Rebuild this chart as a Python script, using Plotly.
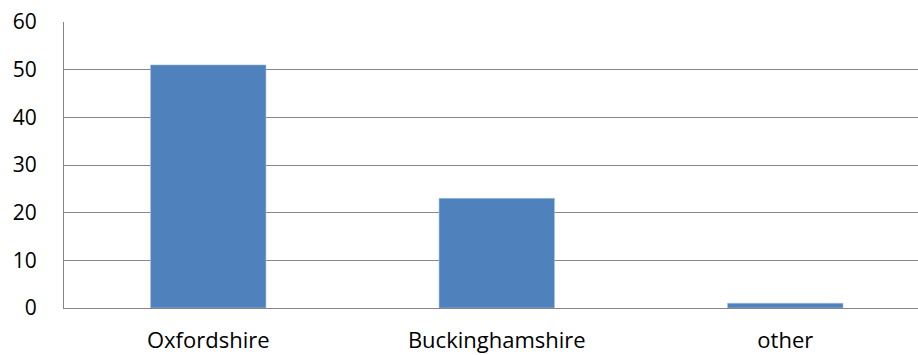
import plotly.graph_objects as go

# Responses by county
categories = ["Oxfordshire", "Buckinghamshire", "other"]
counts = [51, 23, 1]
y_ticks = [0, 10, 20, 30, 40, 50, 60]

AXIS_GREY = "#868686"
FAMILY = "Open Sans, Noto Sans, sans-serif"
FONT = dict(family=FAMILY, size=21, color="#000000")

fig = go.Figure(
    go.Bar(
        x=categories,
        y=counts,
        marker=dict(color="#4F81BD", line=dict(color="#A7BFDE", width=0.6)),
        width=0.4,
    )
)

fig.update_layout(
    width=918,
    height=355,
    margin=dict(l=64, r=0, t=22, b=47),
    paper_bgcolor="white",
    plot_bgcolor="white",
    showlegend=False,
    font=FONT,
)

fig.update_xaxes(
    range=[-0.5, 2.46],
    automargin=False,
    showline=True,
    linecolor=AXIS_GREY,
    linewidth=1.3,
    showgrid=False,
    ticks="outside",
    ticklen=12,
    tickcolor="rgba(0,0,0,0)",
    tickfont=dict(family=FAMILY, size=22, color="#000000"),
)

fig.update_yaxes(
    range=[0, 60],
    tickvals=y_ticks,
    automargin=False,
    showline=True,
    linecolor=AXIS_GREY,
    linewidth=1.3,
    showgrid=True,
    gridcolor=AXIS_GREY,
    gridwidth=1.3,
    zeroline=False,
    ticks="outside",
    ticklen=22,
    tickcolor="rgba(0,0,0,0)",
    tickfont=FONT,
)

fig.write_html("out.html")
